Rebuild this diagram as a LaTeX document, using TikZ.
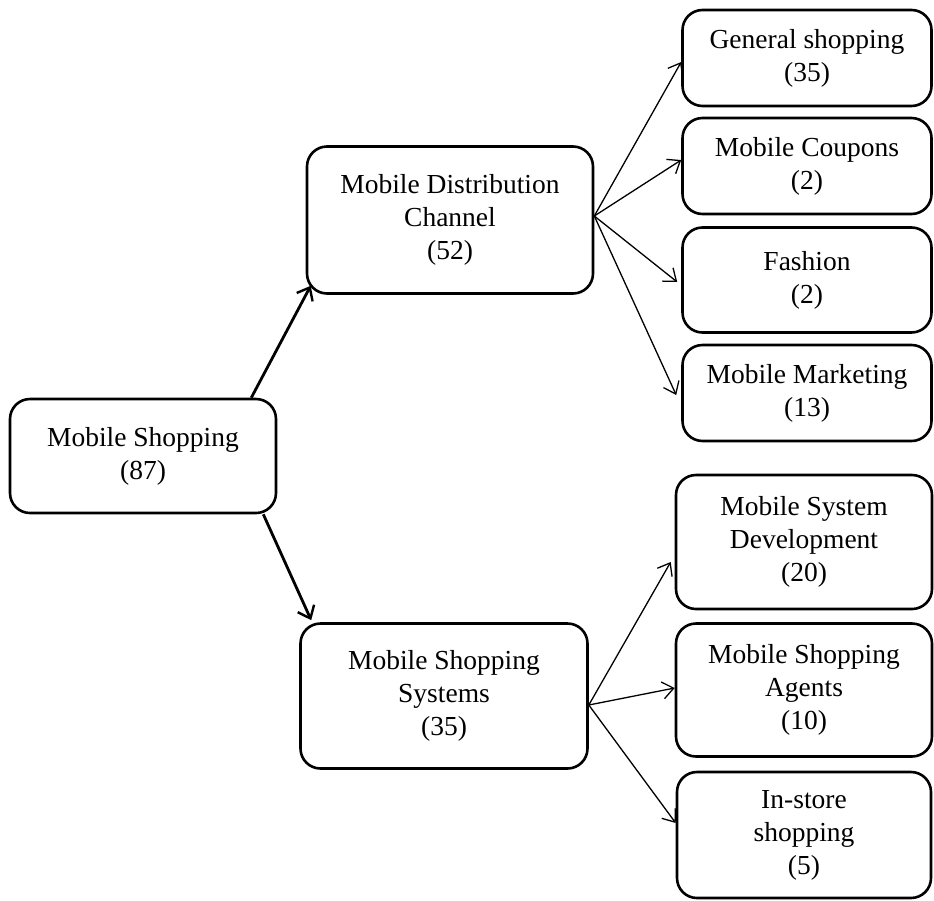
\documentclass[tikz,border=0pt]{standalone}
\usepackage{fontspec}
\setmainfont{Liberation Serif}
\usetikzlibrary{arrows.meta,calc}
\tikzset{
  box/.style={draw, line width=2.6pt, rounded corners=20pt, align=center, inner sep=0pt,
    font=\fontsize{27.5}{33}\selectfont, fill=white},
  thickarrow/.style={line width=2.8pt, -{Straight Barb[length=11pt,width=18pt,line width=2.4pt]}},
  thinarrow/.style={line width=1.3pt, -{Straight Barb[length=11pt,width=17pt,line width=1.3pt]}}
}
\begin{document}
\begin{tikzpicture}[x=1pt,y=-1pt]
\useasboundingbox (0,0) rectangle (934,900);
\node[box, minimum width=266pt, minimum height=114pt] (ms) at (143,456) {Mobile Shopping\\(87)};
\node[box, minimum width=286pt, minimum height=147pt] (mdc) at (450,220) {Mobile Distribution\\Channel\\(52)};
\node[box, minimum width=287pt, minimum height=145pt] (mss) at (444,696) {Mobile Shopping\\Systems\\(35)};
\node[box, minimum width=249pt, minimum height=96pt] (gs) at (807,58) {General shopping\\(35)};
\node[box, minimum width=249pt, minimum height=96pt] (mc) at (807,166) {Mobile Coupons\\(2)};
\node[box, minimum width=249pt, minimum height=105pt] (fa) at (807,280) {Fashion\\(2)};
\node[box, minimum width=249pt, minimum height=96pt] (mm) at (807,393) {Mobile Marketing\\(13)};
\node[box, minimum width=256pt, minimum height=134pt] (msd) at (804,542) {Mobile System\\Development\\(20)};
\node[box, minimum width=256pt, minimum height=133pt] (msa) at (804,690) {Mobile Shopping\\Agents\\(10)};
\node[box, minimum width=254pt, minimum height=126pt] (is) at (804,835) {In-store\\shopping\\(5)};

\draw[thickarrow] ($(ms.north east)+(-26,0)$) -- ($(mdc.south west)+(5,-9)$);
\draw[thickarrow] ($(ms.south east)+(-14,0)$) -- ($(mss.north west)+(12,-2)$);

\coordinate (o1) at ($(mdc.east)+(0,-4)$);
\draw[thinarrow] (o1) -- ($(gs.west)+(0,4)$);
\draw[thinarrow] (o1) -- ($(mc.west)+(0,-6)$);
\draw[thinarrow] (o1) -- ($(fa.west)+(-4,2)$);
\draw[thinarrow] (o1) -- ($(mm.west)+(-5,2)$);

\coordinate (o2) at ($(mss.east)+(0,9)$);
\draw[thinarrow] (o2) -- ($(msd.west)+(-4,20)$);
\draw[thinarrow] (o2) -- ($(msa.west)+(0,-2)$);
\draw[thinarrow] (o2) -- ($(is.west)+(0,-12)$);
\end{tikzpicture}
\end{document}
